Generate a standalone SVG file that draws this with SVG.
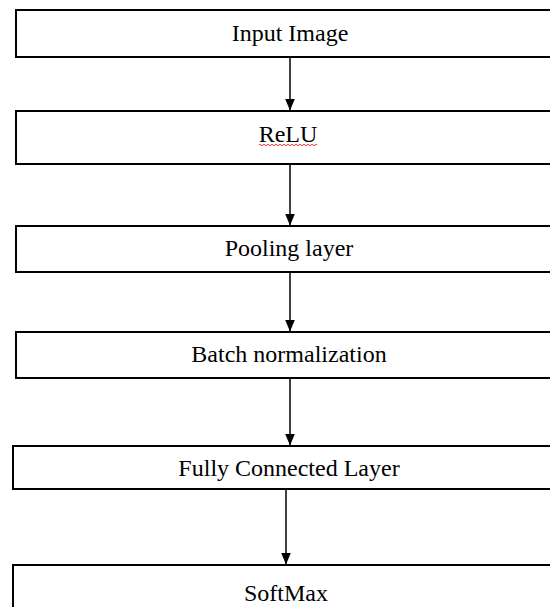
<svg xmlns="http://www.w3.org/2000/svg" width="550" height="607" viewBox="0 0 550 607">
  <defs>
    <marker id="arrow" markerWidth="12" markerHeight="10" refX="11.5" refY="5" orient="auto" markerUnits="userSpaceOnUse" viewBox="0 0 12 10">
      <path d="M0,0 L12,5 L0,10 Z" fill="#000"/>
    </marker>
  </defs>
  <style>
    .box { fill: #fff; stroke: #000; stroke-width: 2; }
    .label { font-family: "Liberation Serif", "Times New Roman", serif; font-size: 24px; fill: #000; text-anchor: middle; }
    .conn { stroke: #000; stroke-width: 1.5; fill: none; }
  </style>
  <rect width="550" height="607" fill="#fff"/>
  <g id="connectors">
    <line class="conn" x1="290" y1="58" x2="290" y2="110" marker-end="url(#arrow)"/>
    <line class="conn" x1="290" y1="165" x2="290" y2="225" marker-end="url(#arrow)"/>
    <line class="conn" x1="290" y1="273" x2="290" y2="331" marker-end="url(#arrow)"/>
    <line class="conn" x1="290" y1="379" x2="290" y2="445" marker-end="url(#arrow)"/>
    <line class="conn" x1="286" y1="490" x2="286" y2="564" marker-end="url(#arrow)"/>
  </g>
  <g id="input-image">
    <rect class="box" x="16" y="10" width="545" height="47"/>
    <text class="label" x="290" y="41">Input Image</text>
  </g>
  <g id="relu">
    <rect class="box" x="16" y="111" width="545" height="53"/>
    <text class="label" x="288" y="142">ReLU</text>
    <path d="M259,145 q1,-1.5 2,0 t2,0 t2,0 t2,0 t2,0 t2,0 t2,0 t2,0 t2,0 t2,0 t2,0 t2,0 t2,0 t2,0 t2,0 t2,0 t2,0 t2,0 t2,0 t2,0 t2,0 t2,0 t2,0 t2,0 t2,0 t2,0 t2,0 t2,0 t2,0" fill="none" stroke="#e00" stroke-width="0.8"/>
  </g>
  <g id="pooling-layer">
    <rect class="box" x="16" y="226" width="545" height="46"/>
    <text class="label" x="289" y="256">Pooling layer</text>
  </g>
  <g id="batch-normalization">
    <rect class="box" x="16" y="332" width="545" height="46"/>
    <text class="label" x="289" y="362">Batch normalization</text>
  </g>
  <g id="fully-connected-layer">
    <rect class="box" x="13" y="446" width="548" height="43"/>
    <text class="label" x="289" y="476">Fully Connected Layer</text>
  </g>
  <g id="softmax">
    <rect class="box" x="13" y="565" width="548" height="50"/>
    <text class="label" x="286" y="601">SoftMax</text>
  </g>
</svg>
